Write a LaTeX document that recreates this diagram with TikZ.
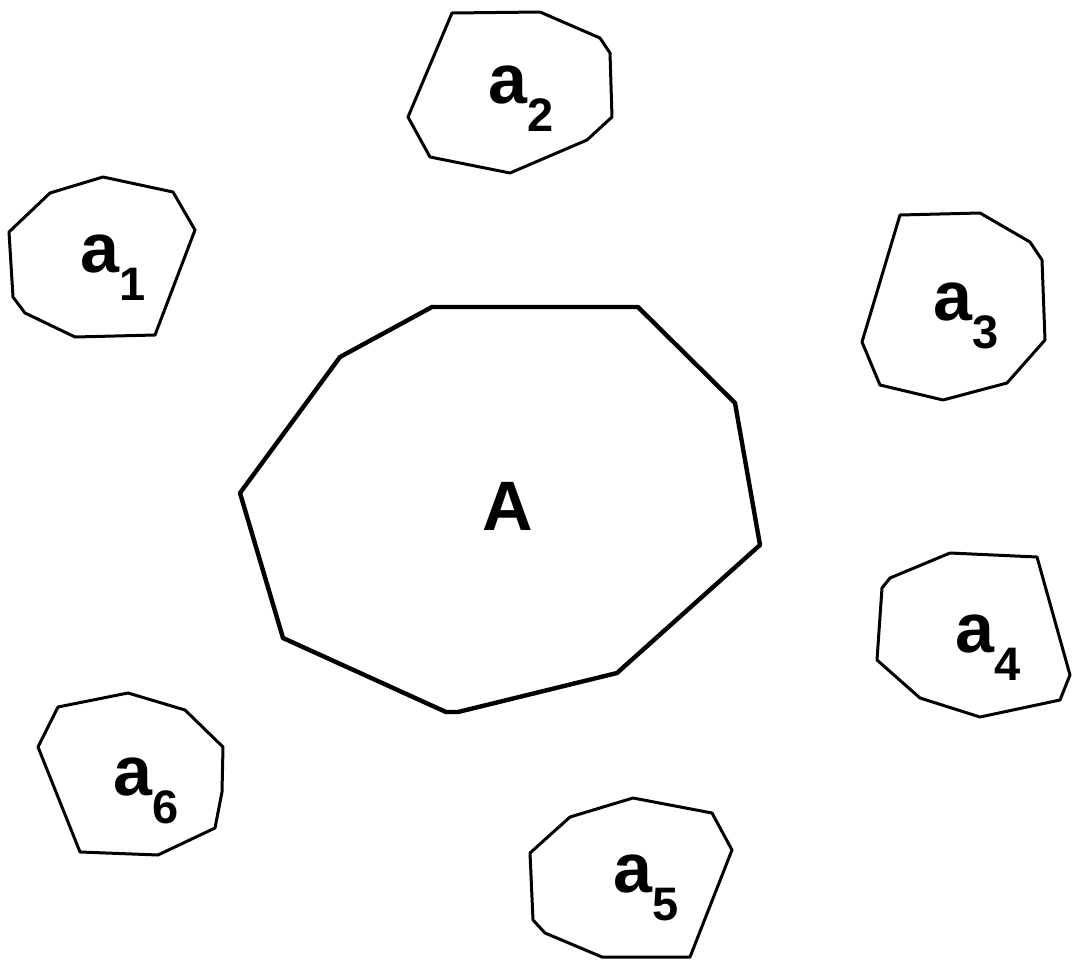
\documentclass[tikz,border=0pt]{standalone}
\usepackage{fontspec}
\setmainfont{Liberation Sans}
\usepackage{tikz}
\tikzset{
  cell/.style={black, line width=3pt, line join=round},
  bigcell/.style={black, line width=4.4pt, line join=round},
  celllabel/.style={anchor=base west, inner sep=0pt, font=\fontsize{70}{70}\selectfont\bfseries},
}
\newcommand{\subnum}[1]{\raisebox{-28pt}{\fontsize{47}{47}\selectfont\bfseries #1}}

\begin{document}
\begin{tikzpicture}[x=1pt,y=-1pt]
    \useasboundingbox (0,0) rectangle (1072,961);
    % central region
    \draw[bigcell] (432,307) -- (638,307) -- (735,403) -- (760,545) -- (617,673)
      -- (458,712) -- (446,712) -- (283,638) -- (240,493) -- (340,357) -- cycle;
    \node[anchor=base, inner sep=0pt, font=\fontsize{70}{70}\selectfont\bfseries]
      (A) at (508,530) {A};
    % small regions
    \draw[cell] (103,177) -- (173,192) -- (195,230) -- (155,335) -- (75,337)
      -- (25,313) -- (13,297) -- (9,232) -- (50,193) -- cycle;
    \draw[cell] (452,13) -- (540,12) -- (600,38) -- (610,53) -- (612,117)
      -- (587,140) -- (510,173) -- (430,157) -- (408,117) -- cycle;
    \draw[cell] (900,215) -- (980,213) -- (1030,242) -- (1042,260) -- (1045,340)
      -- (1007,383) -- (943,400) -- (880,385) -- (862,342) -- cycle;
    \draw[cell] (950,553) -- (1037,557) -- (1070,675) -- (1060,700) -- (980,717)
      -- (920,698) -- (877,660) -- (882,588) -- (890,578) -- cycle;
    \draw[cell] (633,798) -- (712,813) -- (732,850) -- (690,957) -- (602,957)
      -- (545,933) -- (533,920) -- (530,853) -- (570,817) -- cycle;
    \draw[cell] (128,693) -- (185,710) -- (223,747) -- (222,792) -- (215,828)
      -- (158,855) -- (80,852) -- (38,747) -- (58,707) -- cycle;
    % labels
    \node[celllabel] (a1) at (80,272)  {a\subnum{1}};
    \node[celllabel] (a2) at (488,103) {a\subnum{2}};
    \node[celllabel] (a3) at (933,320) {a\subnum{3}};
    \node[celllabel] (a4) at (955,652) {a\subnum{4}};
    \node[celllabel] (a5) at (613,892) {a\subnum{5}};
    \node[celllabel] (a6) at (113,795) {a\subnum{6}};
  \end{tikzpicture}
\end{document}
